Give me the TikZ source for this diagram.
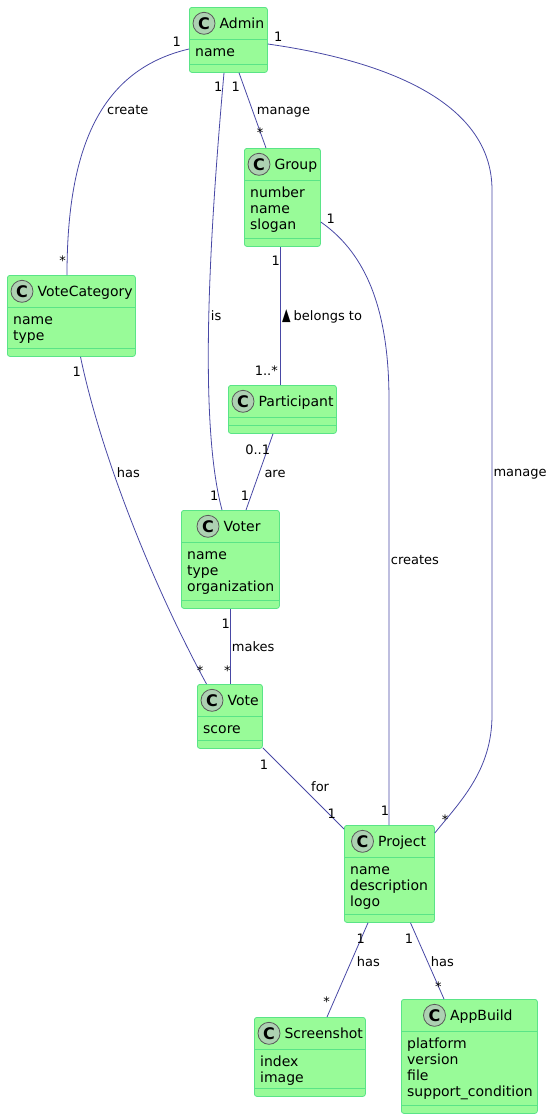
\documentclass[tikz,border=0pt]{standalone}
\usepackage{fontspec}
\setmainfont{DejaVu Sans}
\definecolor{classfill}{RGB}{152,251,152}
\definecolor{classedge}{RGB}{90,228,135}
\definecolor{linkblue}{RGB}{72,72,165}
\definecolor{iconfill}{RGB}{173,209,178}

\tikzset{
  classbox/.style={draw=classedge, fill=classfill, line width=0.8pt, rounded corners=2.5pt, inner sep=0pt, anchor=north west},
  classline/.style={draw=classedge, line width=0.8pt},
  icon/.style={circle, draw=black!65, fill=iconfill, line width=0.8pt, minimum size=22pt, inner sep=0pt, font=\fontsize{16}{16}\bfseries\selectfont},
  classname/.style={font=\fontsize{14}{16.3}\selectfont, anchor=base west, inner sep=0pt},
  attrs/.style={font=\fontsize{14}{16.3}\selectfont, align=left, anchor=north west, inner sep=0pt},
  link/.style={draw=linkblue, line width=0.8pt},
  mult/.style={font=\fontsize{13}{15}\selectfont, anchor=base, inner sep=0pt},
  lbl/.style={font=\fontsize{13}{15}\selectfont, anchor=base west, inner sep=0pt},
}

% a class box: id, top left corner, width, height, icon offset, name, attributes
\newcommand{\umlclass}[7]{%
  \node[classbox, minimum width=#3pt, minimum height=#4pt] (#1) at (#2) {};
  \draw[classline] ([yshift=-32pt]#1.north west) -- ([yshift=-32pt]#1.north east);
  \draw[classline] ([yshift=8pt]#1.south west) -- ([yshift=8pt]#1.south east);
  \node[icon] (#1-icon) at ([xshift=#5pt, yshift=-16.3pt]#1.north west) {C};
  \node[classname] (#1-name) at ([xshift=4pt, yshift=-5.1pt]#1-icon.east) {#6};
  \node[attrs] (#1-attrs) at ([xshift=6pt, yshift=-37.4pt]#1.north west) {\strut #7};
}

\begin{document}
\begin{tikzpicture}[x=1pt, y=-1pt]

    \useasboundingbox (0,0) rectangle (553,1119);

    % the classes:
    \umlclass{admin}{189,7}{78}{65}{15}{Admin}{name}
    \umlclass{group}{244,148}{76}{98}{15}{Group}{number\\name\\slogan}
    \umlclass{votecat}{7,275}{128}{81}{15}{VoteCategory}{name\\type}
    \umlclass{participant}{228,385}{108}{48}{15}{Participant}{}
    \umlclass{voter}{181,510}{98}{98}{27}{Voter}{name\\type\\organization}
    \umlclass{vote}{197,684}{65}{64}{15}{Vote}{score}
    \umlclass{project}{344,825}{90}{97}{18.5}{Project}{name\\description\\logo}
    \umlclass{screenshot}{254,1017}{111}{79}{15}{Screenshot}{index\\image}
    \umlclass{appbuild}{401,999}{136}{114}{33.5}{AppBuild}{platform\\version\\file\\support\_condition}

    % admin creates the vote categories:
    \draw[link] ([yshift=-42pt]admin.north west) .. controls +(-90,21) and +(0,-125) .. ([xshift=60pt]votecat.north west);
    \node[mult] (m-admin-vc) at (176.7,46.7) {1};
    \node[mult] (m-vc-admin) at (62.7,265) {*};
    \node[lbl] (l-create) at (107,114.3) {create};

    % admin is a voter:
    \draw[link] ([xshift=35pt]admin.south west) .. controls +(-14,158) and +(-24,-90) .. ([xshift=41pt]voter.north west);
    \node[mult] (m-admin-voter) at (218.3,91.7) {1};
    \node[mult] (m-voter-admin) at (214.3,500) {1};
    \node[lbl] (l-is) at (210.7,320) {is};

    % admin manages the groups:
    \draw[link] ([xshift=50pt]admin.south west) -- ([xshift=22pt]group.north west);
    \node[mult] (m-admin-group) at (235.7,91.7) {1};
    \node[mult] (m-group-admin) at (260,137.7) {*};
    \node[lbl] (l-manage-group) at (256.7,114.3) {manage};

    % admin manages the projects, round the right side:
    \draw[link] ([yshift=-37pt]admin.north east) .. controls +(113,16) and +(0,-90) .. (492,190)
        -- (492,715) .. controls +(0,55) and +(26,-32) .. ([yshift=-8pt]project.north east);
    \node[mult] (m-admin-project) at (278.3,41.7) {1};
    \node[mult] (m-project-admin) at (445,824.4) {*};
    \node[lbl] (l-manage-project) at (493.3,476.5) {manage};

    % participants belong to a group:
    \draw[link] ([xshift=36pt]group.south west) -- ([xshift=52pt]participant.north west);
    \node[mult] (m-group-part) at (275.7,265) {1};
    \node[mult] (m-part-group) at (266.3,375) {1..*};
    \node[lbl] (l-belongs) at (282,320) {\scalebox{0.65}[1]{\fontsize{17}{17}\selectfont ▲}\kern3pt belongs to};

    % a group creates a project:
    \draw[link] ([yshift=-74pt]group.north east) .. controls +(40,28) and +(0,-100) .. (389,400)
        -- ([xshift=45pt]project.north west);
    \node[mult] (m-group-project) at (330.7,223) {1};
    \node[mult] (m-project-group) at (385,815.4) {1};
    \node[lbl] (l-creates) at (390.7,564) {creates};

    % a vote category has votes:
    \draw[link] ([xshift=73.5pt]votecat.south west) .. controls +(19.5,94) and +(-56.5,-104) .. ([xshift=9.5pt]vote.north west);
    \node[mult] (m-vc-vote) at (76.7,376.4) {1};
    \node[mult] (m-vote-vc) at (200,675.4) {*};
    \node[lbl] (l-has-vote) at (116.7,477.3) {has};

    % participants are voters:
    \draw[link] ([xshift=45pt]participant.south west) -- ([xshift=65pt]voter.north west);
    \node[mult] (m-part-voter) at (257.7,454) {0..1};
    \node[mult] (m-voter-part) at (245,500) {1};
    \node[lbl] (l-are) at (264.3,477) {are};

    % a voter makes votes:
    \draw[link] ([xshift=49.5pt]voter.south west) -- ([xshift=33.5pt]vote.north west);
    \node[mult] (m-voter-vote) at (225.7,628.4) {1};
    \node[mult] (m-vote-voter) at (227.3,675) {*};
    \node[lbl] (l-makes) at (231.7,651) {makes};

    % a vote is for a project:
    \draw[link] ([yshift=1pt]vote.south east) -- ([yshift=-4pt]project.north west);
    \node[mult] (m-vote-project) at (264,769) {1};
    \node[mult] (m-project-vote) at (331.7,818) {1};
    \node[lbl] (l-for) at (311,791.7) {for};

    % a project has screenshots and builds:
    \draw[link] ([xshift=24pt]project.south west) -- ([xshift=73pt]screenshot.north west);
    \node[mult] (m-project-shot) at (360.7,943) {1};
    \node[mult] (m-shot-project) at (326.7,1006.7) {*};
    \node[lbl] (l-has-shot) at (356.7,966) {has};

    \draw[link] ([xshift=66.5pt]project.south west) -- ([xshift=43pt]appbuild.north west);
    \node[mult] (m-project-build) at (409,943) {1};
    \node[mult] (m-build-project) at (438.3,991) {*};
    \node[lbl] (l-has-build) at (430.7,966) {has};

\end{tikzpicture}
\end{document}
